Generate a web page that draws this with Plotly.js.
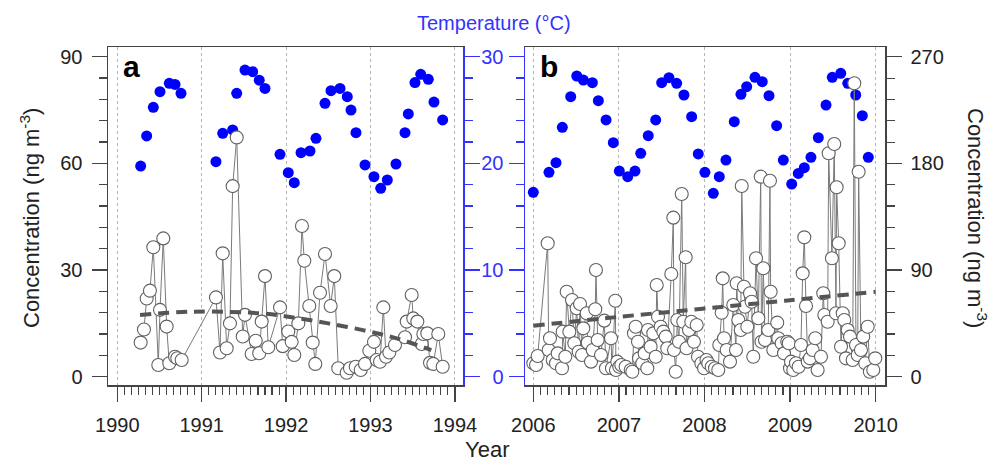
<!DOCTYPE html>
<html>
<head>
<meta charset="utf-8">
<script src="https://cdn.plot.ly/plotly-3.0.1.min.js"></script>
<style>html,body{margin:0;padding:0;background:#fff;}#chart{width:993px;height:461px;}</style>
</head>
<body>
<div id="chart"></div>
<script>
// ---------- Panel a (1990-1994) ----------
var tempDatesA = [1990.277,1990.348,1990.427,1990.506,1990.616,1990.684,1990.755,
  1991.169,1991.249,1991.367,1991.415,1991.513,1991.604,1991.682,1991.750,1991.928,
  1992.026,1992.097,1992.177,1992.283,1992.354,1992.461,1992.532,1992.639,1992.725,1992.769,1992.828,1992.935,
  1993.041,1993.121,1993.199,1993.302,1993.409,1993.448,1993.527,1993.595,1993.685,1993.752,1993.855];
var tempA = [19.75,22.57,25.25,26.72,27.5,27.4,26.57,
  20.16,22.82,23.13,26.57,28.75,28.6,27.8,27.03,20.85,
  19.13,18.19,21.0,21.16,22.35,25.63,26.81,27.03,26.25,25.0,22.88,19.85,
  18.75,17.66,18.44,19.94,22.88,24.63,27.57,28.35,27.88,25.75,24.07];

var concDatesA = [1990.277,1990.316,1990.348,1990.387,1990.427,1990.486,1990.506,1990.545,1990.585,1990.616,1990.684,1990.711,1990.763,
  1991.169,1991.217,1991.249,1991.296,1991.335,1991.367,1991.415,1991.486,1991.513,1991.592,1991.640,1991.682,1991.711,1991.750,1991.789,1991.928,1991.960,
  1992.026,1992.066,1992.097,1992.145,1992.188,1992.216,1992.275,1992.315,1992.346,1992.402,1992.461,1992.528,1992.571,1992.618,1992.718,1992.757,1992.825,1992.884,1992.935,1992.986,
  1993.041,1993.073,1993.113,1993.152,1993.184,1993.223,1993.290,1993.409,1993.429,1993.488,1993.507,1993.555,1993.607,1993.626,1993.673,1993.705,1993.744,1993.803,1993.855];
var concA = [9.6,13.3,22.0,24.2,36.4,3.3,18.8,38.9,14.1,3.8,5.6,5.2,4.7,
  22.3,6.8,34.7,8.0,15.0,53.6,67.3,11.3,17.4,6.4,10.1,6.6,15.5,28.3,8.3,19.5,8.6,
  12.7,9.8,6.1,15.0,42.4,32.6,19.9,9.6,3.6,23.6,34.5,19.9,28.3,2.4,1.1,2.4,2.8,1.9,3.6,7.3,
  9.8,4.7,4.2,19.5,5.6,6.8,8.9,11.1,15.5,23.0,16.4,15.5,9.2,12.0,12.2,3.9,3.6,12.0,2.8];

var trendDatesA = [1990.27,1990.9,1991.71,1992.1,1992.5,1992.91,1993.31,1993.72];
var trendA = [17.35,18.3,17.8,16.6,15.0,13.1,10.8,7.5];

// ---------- Panel b (2006-2010) ----------
var tempDatesB = [2006.000,2006.183,2006.265,2006.339,2006.437,2006.508,2006.585,2006.690,2006.760,2006.850,2006.935,
  2007.005,2007.103,2007.188,2007.255,2007.343,2007.430,2007.500,2007.585,2007.675,2007.760,2007.850,2007.927,
  2008.005,2008.103,2008.173,2008.251,2008.348,2008.426,2008.493,2008.590,2008.675,2008.754,2008.843,2008.921,
  2009.019,2009.096,2009.166,2009.244,2009.330,2009.420,2009.493,2009.592,2009.674,2009.767,2009.844,2009.914];
var tempB = [17.29,19.16,20.06,23.38,26.25,28.19,27.81,27.56,25.88,24.07,21.94,
  19.28,18.75,19.28,20.94,22.6,24.07,27.56,28.03,27.5,26.41,24.38,20.88,
  19.16,17.19,18.75,20.31,23.91,26.47,27.19,28.07,27.66,26.35,23.53,20.31,
  18.06,19.06,19.6,20.57,22.41,25.47,28.07,28.44,27.5,26.41,24.47,20.57];

var concDatesB = [2006.000,2006.032,2006.051,2006.168,2006.180,2006.195,2006.227,2006.265,2006.285,2006.335,2006.343,2006.374,2006.390,2006.421,2006.452,2006.479,2006.507,2006.530,2006.546,2006.569,2006.584,2006.624,2006.636,2006.674,2006.694,2006.724,2006.732,2006.752,2006.791,2006.829,2006.849,2006.908,2006.919,2006.958,2006.966,2006.981,
  2007.005,2007.028,2007.079,2007.138,2007.157,2007.176,2007.196,2007.223,2007.235,2007.273,2007.301,2007.332,2007.340,2007.371,2007.402,2007.430,2007.442,2007.457,2007.488,2007.519,2007.547,2007.565,2007.612,2007.636,2007.644,2007.664,2007.682,2007.702,2007.734,2007.752,2007.780,2007.790,2007.819,2007.846,2007.877,2007.909,2007.924,2007.963,2007.995,
  2008.023,2008.044,2008.084,2008.123,2008.161,2008.173,2008.201,2008.213,2008.228,2008.259,2008.298,2008.336,2008.368,2008.376,2008.395,2008.423,2008.435,2008.461,2008.473,2008.500,2008.532,2008.551,2008.570,2008.602,2008.629,2008.657,2008.666,2008.687,2008.707,2008.745,2008.765,2008.773,2008.804,2008.850,2008.862,2008.902,2008.929,2008.967,2008.985,2008.999,
  2009.011,2009.037,2009.069,2009.100,2009.127,2009.147,2009.166,2009.186,2009.206,2009.232,2009.264,2009.294,2009.322,2009.361,2009.388,2009.400,2009.439,2009.451,2009.489,2009.516,2009.536,2009.544,2009.568,2009.595,2009.615,2009.633,2009.653,2009.673,2009.700,2009.731,2009.750,2009.770,2009.790,2009.801,2009.828,2009.855,2009.879,2009.907,2009.932,2009.972,2009.995];
var concB = [11.3,9.9,17.5,112.6,22.5,32.4,14.1,11.3,19.7,7.1,38.0,16.9,71.7,38.0,64.7,28.2,57.7,21.1,61.4,18.3,40.8,53.5,28.7,12.7,22.5,56.9,90.0,31.0,18.3,47.3,7.1,32.4,7.1,64.1,5.6,12.7,
  8.4,9.9,8.4,5.6,4.2,36.6,42.2,29.5,15.5,11.3,19.7,7.1,39.4,25.3,36.6,16.9,77.4,50.6,42.2,38.0,33.8,24.0,86.7,134.2,22.5,4.2,47.8,29.5,154.2,46.4,100.8,24.0,39.4,46.4,29.5,43.6,16.9,11.3,7.1,
  14.1,11.3,8.4,7.1,5.6,26.7,54.0,83.0,32.4,22.5,12.7,60.5,22.5,78.8,47.8,39.4,160.9,75.9,59.0,42.2,70.4,63.3,16.9,99.9,49.3,168.8,29.5,91.5,31.0,39.4,165.4,71.7,22.5,45.6,32.4,28.2,19.7,29.5,28.2,7.1,
  12.7,5.6,11.3,8.4,26.7,87.2,117.6,59.7,12.7,15.5,22.5,32.4,5.6,16.9,70.4,52.1,46.4,188.5,99.9,196.4,53.5,159.8,112.6,25.3,53.5,47.8,15.5,39.4,33.8,14.1,247.6,26.7,18.3,173.0,22.5,33.8,11.3,42.2,4.2,5.6,15.5];

var trendDatesB = [2006.0,2007.0,2008.0,2009.0,2010.0];
var trendB = [43.0,50.5,57.5,64.5,71.7];

var yearTicksA = [1990,1991,1992,1993,1994];
var yearTicksB = [2006,2007,2008,2009,2010];
var concTicksA = [0,30,60,90];
var concTicksB = [0,90,180,270];
var tempTicks = [0,10,20,30];

// ---------- styling ----------
var FONT = '"Liberation Sans", Arial, Helvetica, sans-serif';
var DARK = '#444444';
var BLUE = '#3333ff';
var DOT = '#0000ff';

function monthTicks(years) {
  var v = [];
  for (var y = years[0]; y < years[years.length - 1]; y++) {
    for (var m = 1; m < 12; m++) v.push(y + m / 12);
  }
  return v;
}

function xAxis(domain, range, ticks, anchor) {
  return {
    domain: domain, range: range, anchor: anchor,
    tickmode: 'array', tickvals: ticks, ticktext: ticks.map(String),
    ticks: 'outside', ticklen: 15, tickwidth: 1.3, tickcolor: DARK,
    showline: true, linecolor: DARK, linewidth: 1.5, mirror: true,
    showgrid: true, gridcolor: '#b5b5b5', griddash: 'dot', gridwidth: 1,
    zeroline: false, ticklabelstandoff: 6,
    tickfont: {family: FONT, size: 20, color: '#222'},
    minor: {tickmode: 'array', tickvals: monthTicks(ticks), ticks: 'outside', ticklen: 8,
            tickwidth: 1.1, tickcolor: DARK, showgrid: false}
  };
}

var yDom = [1 - 385 / 461, 1 - 47 / 461];
var tempRange = [-0.78, 30.91];

var layout = {
  width: 993, height: 461,
  margin: {l: 0, r: 0, t: 0, b: 0},
  paper_bgcolor: '#fff', plot_bgcolor: 'rgba(0,0,0,0)',
  showlegend: false,
  font: {family: FONT},
  xaxis: xAxis([108 / 993, 463 / 993], [1989.89, 1994.096], yearTicksA, 'y'),
  xaxis2: xAxis([525 / 993, 885 / 993], [2005.903, 2010.109], yearTicksB, 'y3'),
  // panel a temperature (right, blue, no labels)
  yaxis: {
    domain: yDom, anchor: 'x', side: 'right', range: tempRange,
    tickmode: 'array', tickvals: tempTicks, showticklabels: false,
    ticks: 'outside', ticklen: 15, tickwidth: 1.3, tickcolor: BLUE,
    showline: true, linecolor: BLUE, linewidth: 1.5, showgrid: false, zeroline: false,
    minor: {dtick: 2, ticks: 'outside', ticklen: 8, tickwidth: 1.1, tickcolor: BLUE, showgrid: false}
  },
  // panel a concentration (left)
  yaxis2: {
    overlaying: 'y', anchor: 'x', side: 'left', range: [-2.33, 92.73],
    tickmode: 'array', tickvals: concTicksA, ticktext: concTicksA.map(String),
    ticks: 'outside', ticklen: 15, tickwidth: 1.3, tickcolor: DARK,
    showline: true, linecolor: DARK, linewidth: 1.5, showgrid: false, zeroline: false,
    ticklabelstandoff: 5,
    tickfont: {family: FONT, size: 20, color: '#222'},
    minor: {dtick: 6, ticks: 'outside', ticklen: 8, tickwidth: 1.1, tickcolor: DARK, showgrid: false}
  },
  // panel b temperature (left, blue labels)
  yaxis3: {
    domain: yDom, anchor: 'x2', side: 'left', range: tempRange,
    tickmode: 'array', tickvals: tempTicks, ticktext: tempTicks.map(String),
    ticks: 'outside', ticklen: 15, tickwidth: 1.3, tickcolor: BLUE,
    showline: true, linecolor: BLUE, linewidth: 1.5, showgrid: false, zeroline: false,
    ticklabelstandoff: 1,
    tickfont: {family: FONT, size: 20, color: BLUE},
    minor: {dtick: 2, ticks: 'outside', ticklen: 8, tickwidth: 1.1, tickcolor: BLUE, showgrid: false}
  },
  // panel b concentration (right)
  yaxis4: {
    overlaying: 'y3', anchor: 'x2', side: 'right', range: [-7.0, 278.2],
    tickmode: 'array', tickvals: concTicksB, ticktext: concTicksB.map(String),
    ticks: 'outside', ticklen: 15, tickwidth: 1.3, tickcolor: DARK,
    showline: true, linecolor: DARK, linewidth: 1.5, showgrid: false, zeroline: false,
    ticklabelstandoff: 5,
    tickfont: {family: FONT, size: 20, color: '#222'},
    minor: {dtick: 18, ticks: 'outside', ticklen: 8, tickwidth: 1.1, tickcolor: DARK, showgrid: false}
  },
  annotations: [
    {text: 'Temperature (°C)', xref: 'paper', yref: 'paper', x: 494 / 993, y: 1 - 23 / 461,
     xanchor: 'center', yanchor: 'middle', showarrow: false, font: {family: FONT, size: 20, color: BLUE}},
    {text: 'Year', xref: 'paper', yref: 'paper', x: 487 / 993, y: 1 - 449 / 461,
     xanchor: 'center', yanchor: 'middle', showarrow: false, font: {family: FONT, size: 22, color: '#222'}},
    {text: 'Concentration (ng m<sup>-3</sup>)', xref: 'paper', yref: 'paper', x: 30 / 993, y: 1 - 218 / 461,
     xanchor: 'center', yanchor: 'middle', textangle: -90, showarrow: false, font: {family: FONT, size: 22, color: '#222'}},
    {text: 'Concentration (ng m<sup>-3</sup>)', xref: 'paper', yref: 'paper', x: 977 / 993, y: 1 - 218 / 461,
     xanchor: 'center', yanchor: 'middle', textangle: 90, showarrow: false, font: {family: FONT, size: 22, color: '#222'}},
    {text: '<b>a</b>', xref: 'paper', yref: 'paper', x: 121 / 993, y: 1 - 67 / 461,
     xanchor: 'left', yanchor: 'middle', showarrow: false, font: {family: FONT, size: 30, color: '#000'}},
    {text: '<b>b</b>', xref: 'paper', yref: 'paper', x: 538 / 993, y: 1 - 67 / 461,
     xanchor: 'left', yanchor: 'middle', showarrow: false, font: {family: FONT, size: 30, color: '#000'}}
  ]
};

var concMarker = {size: 13, color: '#ffffff', line: {color: '#606060', width: 1.1}};
var concLine = {color: '#7a7a7a', width: 1};
var trendLine = {color: '#555555', width: 4, dash: '11px,7px'};

var data = [
  {x: tempDatesA, y: tempA, xaxis: 'x', yaxis: 'y', type: 'scatter', mode: 'markers',
   marker: {size: 11, color: DOT}, cliponaxis: false},
  {x: concDatesA, y: concA, xaxis: 'x', yaxis: 'y2', type: 'scatter', mode: 'lines+markers',
   line: concLine, marker: concMarker, cliponaxis: false},
  {x: trendDatesA, y: trendA, xaxis: 'x', yaxis: 'y2', type: 'scatter', mode: 'lines',
   line: Object.assign({shape: 'spline'}, trendLine)},
  {x: tempDatesB, y: tempB, xaxis: 'x2', yaxis: 'y3', type: 'scatter', mode: 'markers',
   marker: {size: 11, color: DOT}, cliponaxis: false},
  {x: concDatesB, y: concB, xaxis: 'x2', yaxis: 'y4', type: 'scatter', mode: 'lines+markers',
   line: concLine, marker: concMarker, cliponaxis: false},
  {x: trendDatesB, y: trendB, xaxis: 'x2', yaxis: 'y4', type: 'scatter', mode: 'lines',
   line: Object.assign({shape: 'spline'}, trendLine)}
];

Plotly.newPlot('chart', data, layout, {staticPlot: true, displayModeBar: false});
</script>
</body>
</html>
